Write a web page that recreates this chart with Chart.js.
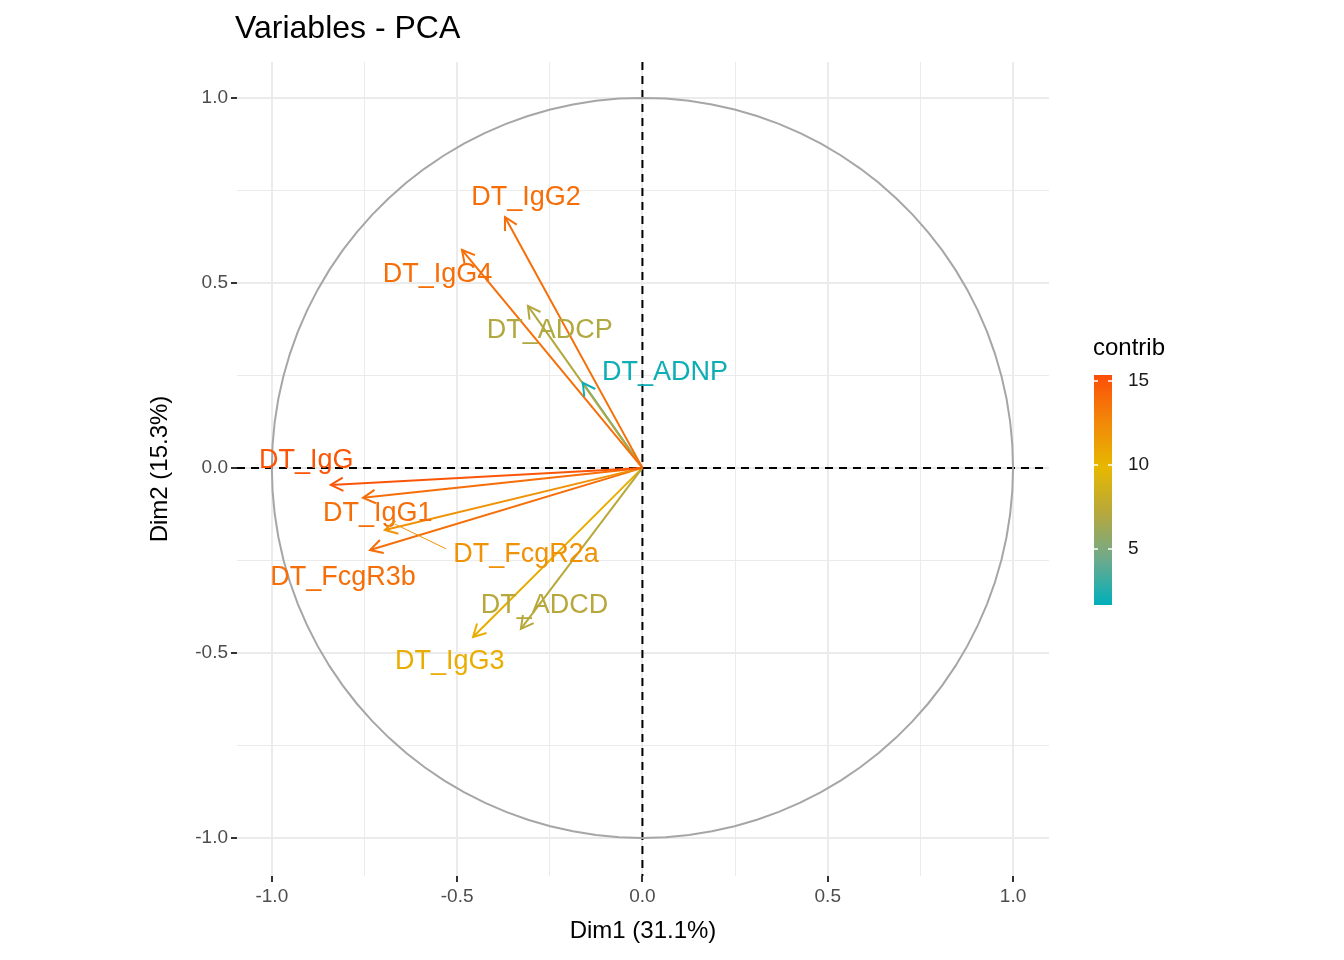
<!DOCTYPE html>
<html><head><meta charset="utf-8">
<script src="https://cdn.jsdelivr.net/npm/chart.js@4"></script>
<style>html,body{margin:0;padding:0;background:#fff}#w{width:1344px;height:960px}</style>
</head><body><div id="w"><canvas id="c"></canvas></div>
<script>
const variables = ['DT_IgG2','DT_IgG4','DT_ADCP','DT_ADNP','DT_IgG','DT_IgG1','DT_FcgR2a','DT_FcgR3b','DT_ADCD','DT_IgG3'];
const dim1 = [-0.371,-0.487,-0.309,-0.161,-0.841,-0.754,-0.695,-0.735,-0.328,-0.457];
const dim2 = [0.678,0.589,0.438,0.230,-0.046,-0.081,-0.168,-0.222,-0.435,-0.457];
const contrib = [13.8,13.8,7,2,15,13.8,12,13.8,7.2,10.5];
const labelX = [-0.314,-0.553,-0.250,0.061,-0.907,-0.714,-0.314,-0.808,-0.264,-0.520];
const labelY = [0.732,0.522,0.370,0.257,0.019,-0.124,-0.235,-0.297,-0.373,-0.524];
const tickVals = [-1,-0.5,0,0.5,1];
const cMin=1.67, cMax=15.36;
const stops=[[0,[0,175,187]],[0.2,[110,170,140]],[0.4,[182,168,60]],[0.6,[231,184,0]],[0.8,[242,135,8]],[1,[252,78,7]]];
function col(v){let t=(v-cMin)/(cMax-cMin);t=Math.max(0,Math.min(1,t));
 for(let i=1;i<stops.length;i++){if(t<=stops[i][0]){const a=stops[i-1],b=stops[i];const f=(t-a[0])/(b[0]-a[0]);
 const c=a[1].map((x,k)=>Math.round(x+(b[1][k]-x)*f));return `rgb(${c})`;}}return 'rgb(252,78,7)';}
const datasets = variables.map((n,i)=>({label:n,data:[{x:0,y:0},{x:dim1[i],y:dim2[i]}],showLine:true,borderColor:col(contrib[i]),borderWidth:2,pointRadius:0}));
const isMajor=v=>tickVals.some(t=>Math.abs(t-v)<1e-6);
const grid={color:c=>'#EBEBEB',lineWidth:c=>isMajor(c.tick.value)?2:1,tickLength:6,tickColor:c=>isMajor(c.tick.value)?'#333':'rgba(0,0,0,0)',drawTicks:true};
const tickFont={family:'Liberation Sans, Arial',size:19};
const deco={id:'deco',
beforeDatasetsDraw(ch){const {ctx,scales:{x,y},chartArea:a}=ch;ctx.save();
 ctx.setLineDash([8,6]);ctx.strokeStyle='#000';ctx.lineWidth=2;
 ctx.beginPath();ctx.moveTo(a.left,y.getPixelForValue(0));ctx.lineTo(a.right,y.getPixelForValue(0));
 ctx.moveTo(x.getPixelForValue(0),a.top);ctx.lineTo(x.getPixelForValue(0),a.bottom);ctx.stroke();
 ctx.setLineDash([]);ctx.strokeStyle='#A6A6A6';ctx.lineWidth=2;ctx.beginPath();
 for(let k=0;k<=100;k++){const t=k/100*2*Math.PI;const px=x.getPixelForValue(Math.cos(t)),py=y.getPixelForValue(Math.sin(t));k?ctx.lineTo(px,py):ctx.moveTo(px,py);}
 ctx.stroke();ctx.restore();},
afterDatasetsDraw(ch){const {ctx,scales:{x,y}}=ch;ctx.save();
 variables.forEach((n,i)=>{const c=col(contrib[i]);const x0=x.getPixelForValue(0),y0=y.getPixelForValue(0);
  const x1=x.getPixelForValue(dim1[i]),y1=y.getPixelForValue(dim2[i]);const ang=Math.atan2(y1-y0,x1-x0);
  ctx.strokeStyle=c;ctx.lineWidth=2;ctx.beginPath();
  ctx.moveTo(x1-14*Math.cos(ang-0.5),y1-14*Math.sin(ang-0.5));ctx.lineTo(x1,y1);
  ctx.lineTo(x1-14*Math.cos(ang+0.5),y1-14*Math.sin(ang+0.5));ctx.stroke();
  const lx=x.getPixelForValue(labelX[i]),ly=y.getPixelForValue(labelY[i]);
  if(n==='DT_FcgR2a'){ctx.lineWidth=1;ctx.beginPath();ctx.moveTo(lx-80,ly-6);ctx.lineTo(x1+10,y1-6);ctx.stroke();}
  ctx.fillStyle=c;ctx.font='27px "Liberation Sans", Arial';ctx.textAlign='center';ctx.textBaseline='middle';ctx.fillText(n,lx,ly);});
 ctx.fillStyle='#000';ctx.font='32px "Liberation Sans", Arial';ctx.textAlign='left';ctx.textBaseline='middle';ctx.fillText('Variables - PCA',235,29);
 const bx=1094,bw=18,top=375,bot=605;const g=ctx.createLinearGradient(0,bot,0,top);
 stops.forEach(s=>g.addColorStop(s[0],`rgb(${s[1]})`));ctx.fillStyle=g;ctx.fillRect(bx,top,bw,bot-top);
 ctx.font='24px "Liberation Sans", Arial';ctx.fillStyle='#000';ctx.fillText('contrib',1093,348);
 ctx.font='19px "Liberation Sans", Arial';ctx.fillStyle='#1a1a1a';
 [5,10,15].forEach(v=>{const py=bot-(v-cMin)/(cMax-cMin)*(bot-top);ctx.strokeStyle='#fff';ctx.lineWidth=1.5;ctx.beginPath();
  ctx.moveTo(bx,py);ctx.lineTo(bx+4,py);ctx.moveTo(bx+bw-4,py);ctx.lineTo(bx+bw,py);ctx.stroke();ctx.fillText(String(v),1128,py);});
 ctx.restore();}};
new Chart(document.getElementById('c'),{type:'scatter',data:{datasets},
options:{responsive:true,maintainAspectRatio:false,animation:false,
 layout:{padding:{left:146,top:62,right:295,bottom:14}},
 plugins:{legend:{display:false},tooltip:{enabled:false}},
 scales:{
  x:{type:'linear',min:-1.094,max:1.097,afterBuildTicks:s=>{s.ticks=[-0.75,-0.25,0.25,0.75].concat(tickVals).sort((a,b)=>a-b).map(v=>({value:v}));},
   afterFit:s=>{s.height=70;},border:{display:false},grid,
   ticks:{font:tickFont,color:'#4D4D4D',autoSkip:false,maxRotation:0,callback:v=>isMajor(v)?v.toFixed(1):''},
   title:{display:true,text:'Dim1 (31.1%)',font:{family:'Liberation Sans, Arial',size:24},color:'#000',padding:{top:0,bottom:0}}},
  y:{type:'linear',min:-1.103,max:1.097,afterBuildTicks:s=>{s.ticks=[-0.75,-0.25,0.25,0.75].concat(tickVals).sort((a,b)=>a-b).map(v=>({value:v}));},
   afterFit:s=>{s.width=91;},border:{display:false},grid,
   ticks:{font:tickFont,color:'#4D4D4D',autoSkip:false,callback:v=>isMajor(v)?v.toFixed(1):''},
   title:{display:true,text:'Dim2 (15.3%)',font:{family:'Liberation Sans, Arial',size:24},color:'#000',padding:0}}}},
plugins:[deco]});
</script></body></html>
